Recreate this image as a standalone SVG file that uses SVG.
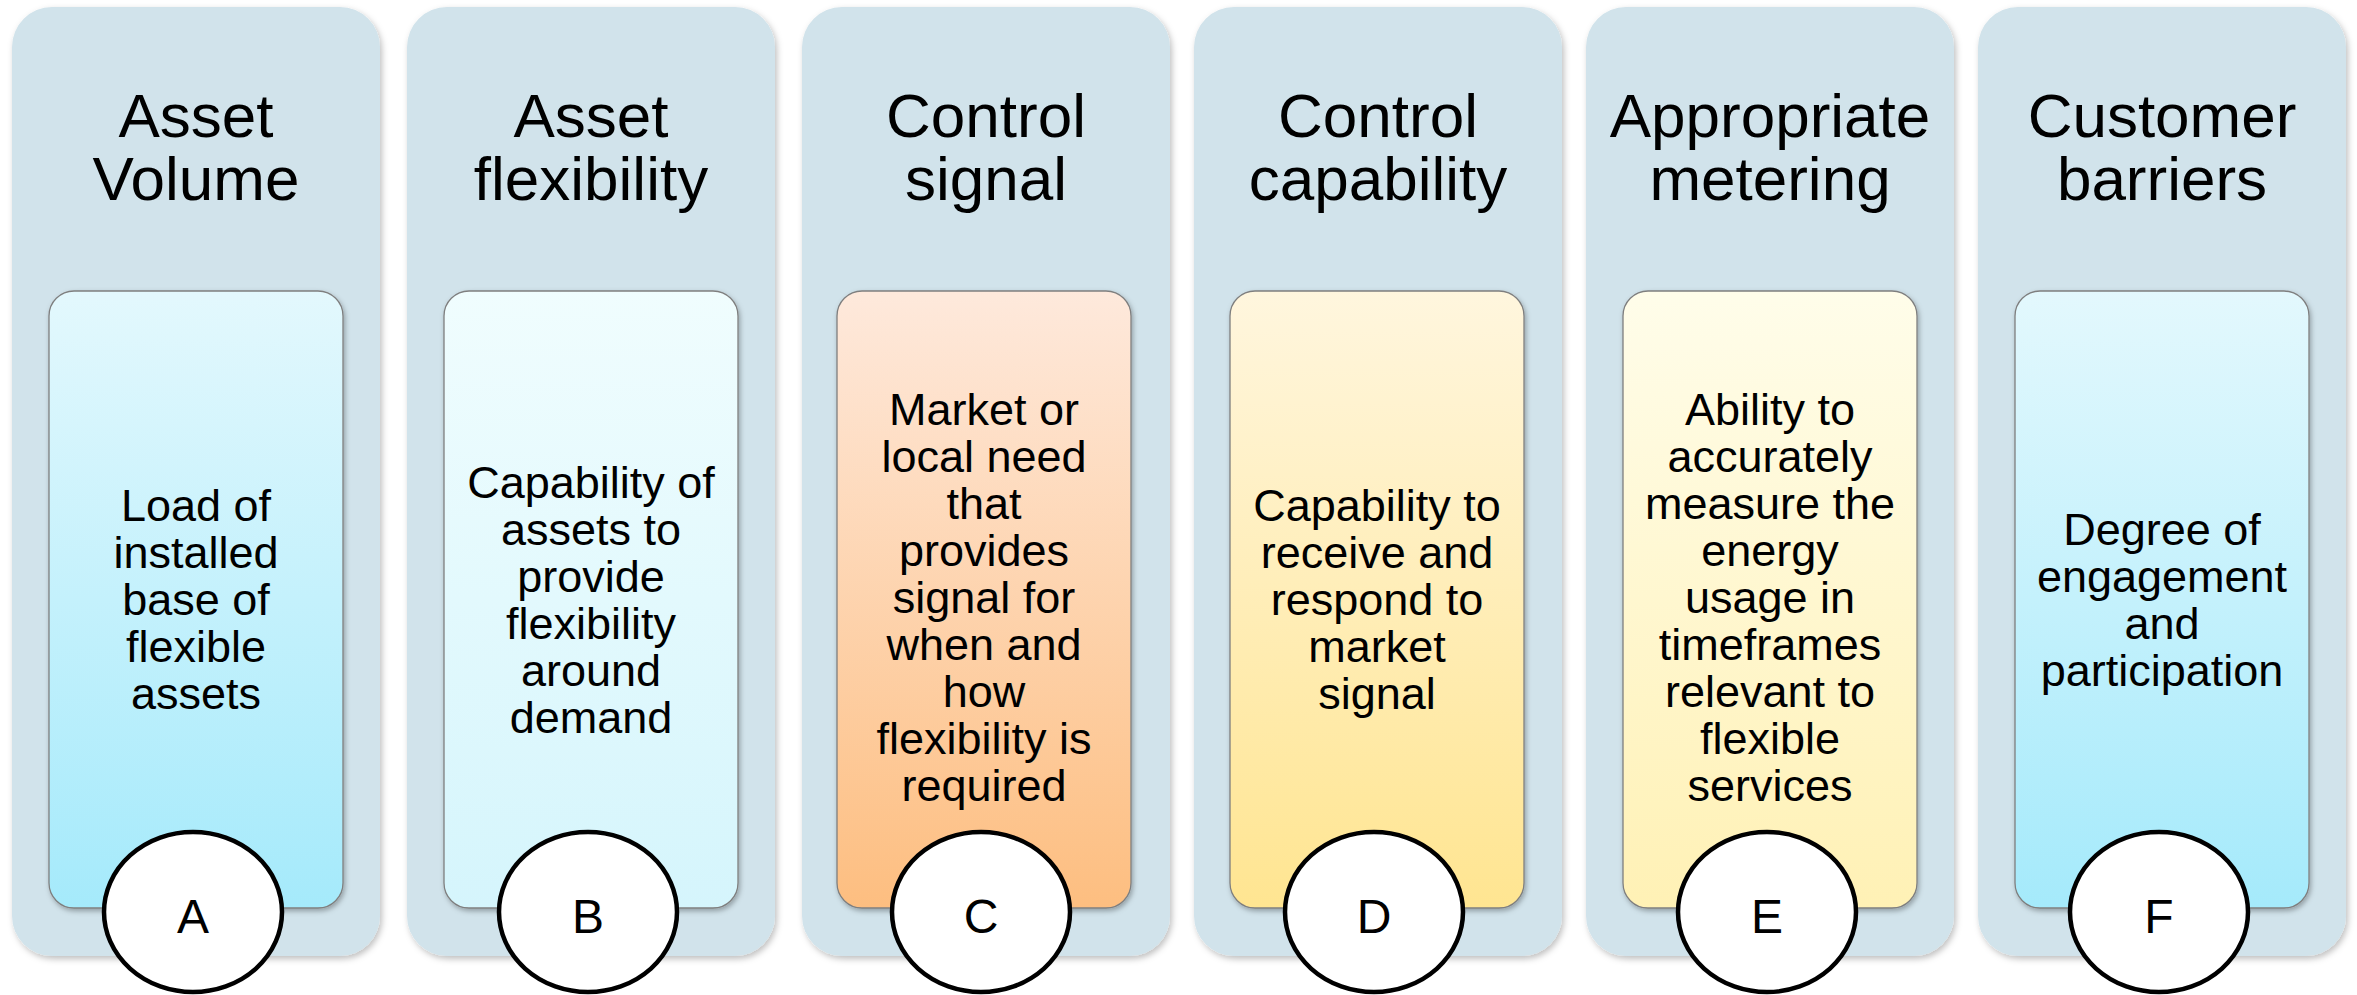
<svg xmlns="http://www.w3.org/2000/svg" width="2357" height="995" viewBox="0 0 2357 995">
  <style>
    .panel { fill: #D1E3EB; filter: url(#softShadow); }
    .card { stroke: #7F7F7F; stroke-width: 1.3; filter: url(#cardShadow); }
    .badge { fill: #FFFFFF; stroke: #000000; stroke-width: 4.5; }
    text { font-family: "Liberation Sans", Arial, sans-serif; fill: #000000; text-anchor: middle; }
    .title { font-size: 62px; }
    .body { font-size: 45px; }
    .letter { font-size: 48px; }
  </style>
  <defs>
    <filter id="softShadow" x="-10%" y="-10%" width="120%" height="120%">
      <feDropShadow dx="2" dy="3" stdDeviation="3" flood-color="#000000" flood-opacity="0.25"/>
    </filter>
    <filter id="cardShadow" x="-10%" y="-10%" width="120%" height="120%">
      <feDropShadow dx="1.5" dy="2.5" stdDeviation="2.5" flood-color="#000000" flood-opacity="0.3"/>
    </filter>
    <linearGradient id="gradCyan" x1="0" y1="0" x2="0" y2="1">
      <stop offset="0" stop-color="#E3F8FD"/>
      <stop offset="1" stop-color="#A5EAFB"/>
    </linearGradient>
    <linearGradient id="gradPale" x1="0" y1="0" x2="0" y2="1">
      <stop offset="0" stop-color="#F0FDFE"/>
      <stop offset="1" stop-color="#D5F5FC"/>
    </linearGradient>
    <linearGradient id="gradOrange" x1="0" y1="0" x2="0" y2="1">
      <stop offset="0" stop-color="#FEE9DC"/>
      <stop offset="1" stop-color="#FDBE80"/>
    </linearGradient>
    <linearGradient id="gradYellow" x1="0" y1="0" x2="0" y2="1">
      <stop offset="0" stop-color="#FFF6DE"/>
      <stop offset="1" stop-color="#FFE591"/>
    </linearGradient>
    <linearGradient id="gradCream" x1="0" y1="0" x2="0" y2="1">
      <stop offset="0" stop-color="#FFFDEA"/>
      <stop offset="1" stop-color="#FFF1B5"/>
    </linearGradient>
  </defs>

  <!-- no connectors in this layout -->
  <g id="connectors"/>

  <!-- Column A -->
  <g id="node-a" transform="translate(12,0)">
    <rect class="panel" x="0" y="7" width="368" height="949" rx="40"/>
    <text class="title" x="184"><tspan x="184" y="137">Asset</tspan><tspan x="184" y="200">Volume</tspan></text>
    <rect class="card" x="37" y="291" width="294" height="617" rx="25" fill="url(#gradCyan)"/>
    <text class="body"><tspan x="184" y="521">Load of</tspan><tspan x="184" y="568">installed</tspan><tspan x="184" y="615">base of</tspan><tspan x="184" y="662">flexible</tspan><tspan x="184" y="709">assets</tspan></text>
    <ellipse class="badge" cx="181" cy="912" rx="89" ry="80"/>
    <text class="letter" x="181" y="933">A</text>
  </g>

  <!-- Column B -->
  <g id="node-b" transform="translate(407,0)">
    <rect class="panel" x="0" y="7" width="368" height="949" rx="40"/>
    <text class="title"><tspan x="184" y="137">Asset</tspan><tspan x="184" y="200">flexibility</tspan></text>
    <rect class="card" x="37" y="291" width="294" height="617" rx="25" fill="url(#gradPale)"/>
    <text class="body"><tspan x="184" y="498">Capability of</tspan><tspan x="184" y="545">assets to</tspan><tspan x="184" y="592">provide</tspan><tspan x="184" y="639">flexibility</tspan><tspan x="184" y="686">around</tspan><tspan x="184" y="733">demand</tspan></text>
    <ellipse class="badge" cx="181" cy="912" rx="89" ry="80"/>
    <text class="letter" x="181" y="933">B</text>
  </g>

  <!-- Column C -->
  <g id="node-c" transform="translate(802,0)">
    <rect class="panel" x="0" y="7" width="368" height="949" rx="40"/>
    <text class="title"><tspan x="184" y="137">Control</tspan><tspan x="184" y="200">signal</tspan></text>
    <rect class="card" x="35" y="291" width="294" height="617" rx="25" fill="url(#gradOrange)"/>
    <text class="body"><tspan x="182" y="425">Market or</tspan><tspan x="182" y="472">local need</tspan><tspan x="182" y="519">that</tspan><tspan x="182" y="566">provides</tspan><tspan x="182" y="613">signal for</tspan><tspan x="182" y="660">when and</tspan><tspan x="182" y="707">how</tspan><tspan x="182" y="754">flexibility is</tspan><tspan x="182" y="801">required</tspan></text>
    <ellipse class="badge" cx="179" cy="912" rx="89" ry="80"/>
    <text class="letter" x="179" y="933">C</text>
  </g>

  <!-- Column D -->
  <g id="node-d" transform="translate(1194,0)">
    <rect class="panel" x="0" y="7" width="368" height="949" rx="40"/>
    <text class="title"><tspan x="184" y="137">Control</tspan><tspan x="184" y="200">capability</tspan></text>
    <rect class="card" x="36" y="291" width="294" height="617" rx="25" fill="url(#gradYellow)"/>
    <text class="body"><tspan x="183" y="521">Capability to</tspan><tspan x="183" y="568">receive and</tspan><tspan x="183" y="615">respond to</tspan><tspan x="183" y="662">market</tspan><tspan x="183" y="709">signal</tspan></text>
    <ellipse class="badge" cx="180" cy="912" rx="89" ry="80"/>
    <text class="letter" x="180" y="933">D</text>
  </g>

  <!-- Column E -->
  <g id="node-e" transform="translate(1586,0)">
    <rect class="panel" x="0" y="7" width="368" height="949" rx="40"/>
    <text class="title"><tspan x="184" y="137">Appropriate</tspan><tspan x="184" y="200">metering</tspan></text>
    <rect class="card" x="37" y="291" width="294" height="617" rx="25" fill="url(#gradCream)"/>
    <text class="body"><tspan x="184" y="425">Ability to</tspan><tspan x="184" y="472">accurately</tspan><tspan x="184" y="519">measure the</tspan><tspan x="184" y="566">energy</tspan><tspan x="184" y="613">usage in</tspan><tspan x="184" y="660">timeframes</tspan><tspan x="184" y="707">relevant to</tspan><tspan x="184" y="754">flexible</tspan><tspan x="184" y="801">services</tspan></text>
    <ellipse class="badge" cx="181" cy="912" rx="89" ry="80"/>
    <text class="letter" x="181" y="933">E</text>
  </g>

  <!-- Column F -->
  <g id="node-f" transform="translate(1978,0)">
    <rect class="panel" x="0" y="7" width="368" height="949" rx="40"/>
    <text class="title"><tspan x="184" y="137">Customer</tspan><tspan x="184" y="200">barriers</tspan></text>
    <rect class="card" x="37" y="291" width="294" height="617" rx="25" fill="url(#gradCyan)"/>
    <text class="body"><tspan x="184" y="545">Degree of</tspan><tspan x="184" y="592">engagement</tspan><tspan x="184" y="639">and</tspan><tspan x="184" y="686">participation</tspan></text>
    <ellipse class="badge" cx="181" cy="912" rx="89" ry="80"/>
    <text class="letter" x="181" y="933">F</text>
  </g>
</svg>
